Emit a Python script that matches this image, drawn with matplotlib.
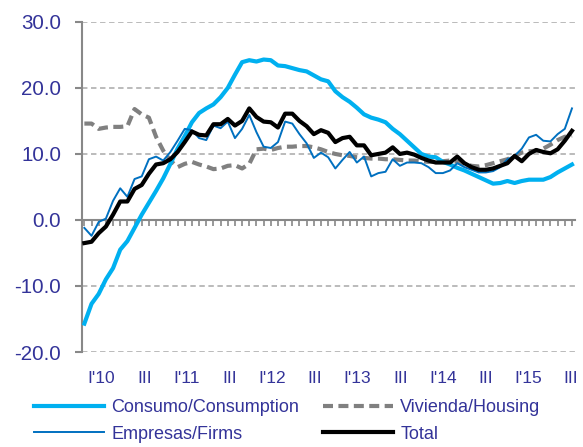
import matplotlib
matplotlib.use("Agg")
import matplotlib.pyplot as plt
import numpy as np

plt.rcParams['font.family'] = ['Liberation Sans', 'DejaVu Sans']

# monthly series, Nov 2009 .. Jul 2015
consumo = [-15.7, -12.7, -11.2, -9.0, -7.3, -4.5, -3.2, -1.2, 0.8, 2.6,
           4.4, 6.3, 8.5, 10.8, 12.7, 14.8, 16.2, 16.9, 17.5, 18.6,
           20.0, 22.0, 23.9, 24.2, 24.0, 24.3, 24.2, 23.4, 23.3, 23.0,
           22.7, 22.5, 21.9, 21.3, 21.0, 19.5, 18.6, 17.9, 17.0, 16.0,
           15.5, 15.2, 14.8, 13.8, 13.0, 12.0, 11.0, 10.0, 9.6, 9.5,
           8.8, 8.4, 7.9, 7.5, 7.0, 6.5, 6.0, 5.5, 5.6, 5.9,
           5.6, 5.9, 6.1, 6.1, 6.1, 6.5, 7.2, 7.8, 8.4]
vivienda = [14.6, 14.6, 13.8, 14.0, 14.1, 14.1, 14.2, 16.8, 16.0, 15.5,
            12.6, 10.5, 9.0, 8.0, 8.5, 8.8, 8.4, 8.1, 7.7, 7.8,
            8.2, 8.3, 7.8, 8.5, 10.7, 10.8, 10.6, 10.9, 11.1, 11.1,
            11.2, 11.2, 11.0, 10.7, 10.3, 10.0, 9.8, 9.7, 9.5, 9.4,
            9.3, 9.3, 9.2, 9.2, 9.1, 9.0, 9.0, 8.9, 8.8, 8.8,
            8.9, 9.0, 8.8, 8.5, 8.2, 8.1, 8.3, 8.6, 8.9, 9.2,
            9.7, 10.2, 10.4, 10.5, 10.8, 11.4, 12.1, 12.6, 12.8]
empresas = [-1.2, -2.4, -0.3, 0.2, 2.9, 4.8, 3.5, 6.2, 6.6, 9.2,
            9.6, 9.0, 10.3, 12.0, 13.8, 13.6, 12.4, 12.1, 14.3, 13.9,
            14.9, 12.4, 13.8, 15.9, 13.3, 11.1, 10.9, 11.8, 14.9, 14.6,
            13.0, 11.6, 9.4, 10.2, 9.5, 7.8, 9.1, 10.3, 8.7, 9.6,
            6.6, 7.1, 7.3, 9.2, 8.2, 8.7, 8.7, 8.6, 8.0, 7.1,
            7.1, 7.5, 8.6, 8.0, 7.6, 7.2, 7.2, 7.4, 8.0, 9.2,
            9.7, 10.8, 12.5, 12.9, 12.0, 11.9, 13.0, 13.8, 16.9]
total = [-3.5, -3.3, -2.0, -1.0, 0.8, 2.8, 2.8, 4.7, 5.3, 7.0,
         8.4, 8.6, 9.2, 10.3, 11.8, 13.4, 12.9, 12.8, 14.5, 14.5,
         15.3, 14.3, 15.0, 16.9, 15.6, 14.9, 14.8, 14.0, 16.1, 16.1,
         15.0, 14.2, 13.0, 13.6, 13.2, 11.8, 12.4, 12.6, 11.3, 11.3,
         9.8, 10.0, 10.2, 11.0, 10.0, 10.2, 9.9, 9.4, 9.0, 8.7,
         8.7, 8.7, 9.6, 8.6, 8.0, 7.6, 7.6, 7.8, 8.2, 8.6,
         9.7, 8.9, 10.0, 10.6, 10.3, 10.1, 10.7, 12.0, 13.5]

tick_labels = ["I'10", "III", "I'11", "III", "I'12", "III",
               "I'13", "III", "I'14", "III", "I'15", "III"]
y_ticks = [-20, -10, 0, 10, 20, 30]

txt = "#333399"
x = np.arange(len(total))

fig = plt.figure(figsize=(5.83, 4.47), dpi=100)
ax = fig.add_axes([0.141, 0.2125, 0.845, 0.7385])

ax.plot(x, consumo, color="#00B0F0", lw=3.0, label="Consumo/Consumption", zorder=3)
ax.plot(x, empresas, color="#0070C0", lw=1.4, label="Empresas/Firms", zorder=4)
ax.plot(x, vivienda, color="#808080", lw=3.0, ls=(0, (2.4, 1.3)),
        label="Vivienda/Housing", zorder=2)
ax.plot(x, total, color="black", lw=3.0, label="Total", zorder=5)

ax.set_ylim(-20, 30)
ax.set_xlim(-0.3, 68.4)
ax.set_yticks(y_ticks)
ax.set_yticklabels(["%.1f" % v for v in y_ticks], fontsize=14.8)
for v in y_ticks:
    if v != 0:
        ax.axhline(v, color="#B5B5B5", lw=1.3, ls=(0, (3, 2)), zorder=1)

for s in ["top", "right"]:
    ax.spines[s].set_visible(False)
ax.spines["left"].set_color("#888888")
ax.spines["left"].set_linewidth(1.5)
ax.spines["bottom"].set_position(("data", 0))
ax.spines["bottom"].set_color("#888888")
ax.spines["bottom"].set_linewidth(1.5)
ax.tick_params(axis="y", colors="#888888", length=5, width=1.5,
               labelcolor=txt, pad=10)
ax.set_xticks(x)
ax.tick_params(axis="x", direction="out", length=4, width=1.2,
               colors="#888888", labelbottom=False)

for k, lab in enumerate(tick_labels):
    ax.text(2.4 + 5.95 * k, -0.08, lab, transform=ax.get_xaxis_transform(),
            ha="center", va="center", color=txt, fontsize=12.5)

fig.legend(loc="lower left", bbox_to_anchor=(0.03, -0.027), ncol=2,
           frameon=False, fontsize=13, handlelength=3.9, columnspacing=1.3,
           labelcolor=txt, handletextpad=0.4, labelspacing=0.55)

fig.savefig("out.png", dpi=100)
